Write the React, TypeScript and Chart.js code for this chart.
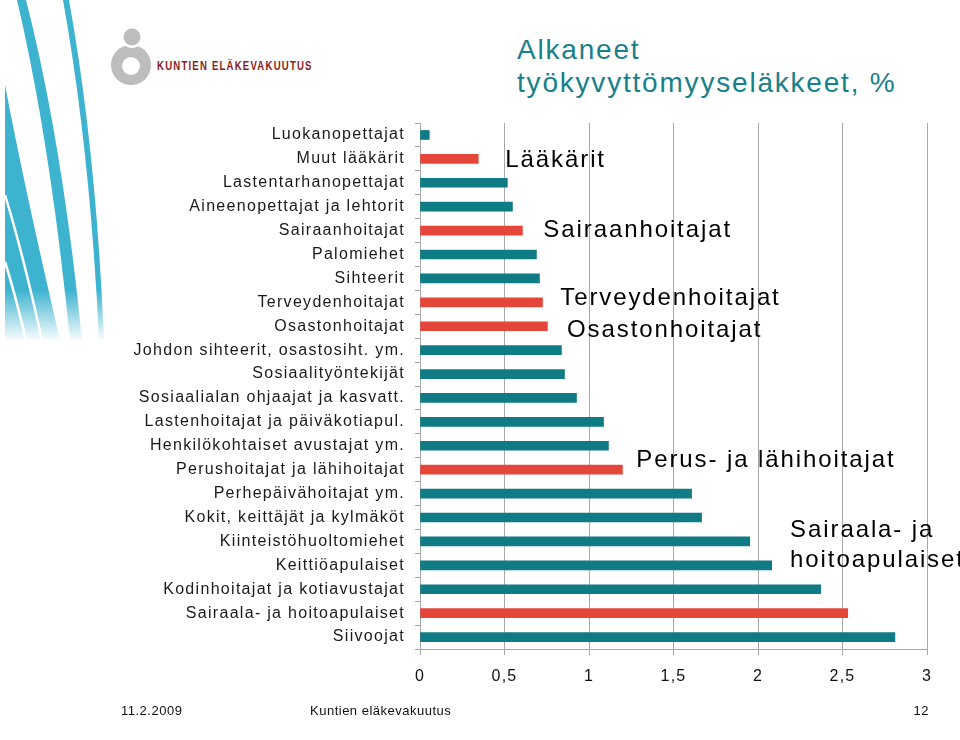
import React, { useEffect, useRef } from "react";
import { Chart, registerables } from "chart.js";

Chart.register(...registerables);

const categories = [
  "Luokanopettajat",
  "Muut lääkärit",
  "Lastentarhanopettajat",
  "Aineenopettajat ja lehtorit",
  "Sairaanhoitajat",
  "Palomiehet",
  "Sihteerit",
  "Terveydenhoitajat",
  "Osastonhoitajat",
  "Johdon sihteerit, osastosiht. ym.",
  "Sosiaalityöntekijät",
  "Sosiaalialan ohjaajat ja kasvatt.",
  "Lastenhoitajat ja päiväkotiapul.",
  "Henkilökohtaiset avustajat ym.",
  "Perushoitajat ja lähihoitajat",
  "Perhepäivähoitajat ym.",
  "Kokit, keittäjät ja kylmäköt",
  "Kiinteistöhuoltomiehet",
  "Keittiöapulaiset",
  "Kodinhoitajat ja kotiavustajat",
  "Sairaala- ja hoitoapulaiset",
  "Siivoojat",
];

const values = [
  0.055, 0.345, 0.517, 0.547, 0.606, 0.689, 0.707, 0.725, 0.754, 0.837, 0.855,
  0.926, 1.086, 1.115, 1.198, 1.607, 1.666, 1.951, 2.081, 2.371, 2.531, 2.81,
];

const highlighted = [
  "Muut lääkärit",
  "Sairaanhoitajat",
  "Terveydenhoitajat",
  "Osastonhoitajat",
  "Perushoitajat ja lähihoitajat",
  "Sairaala- ja hoitoapulaiset",
];

const xTickLabels = ["0", "0,5", "1", "1,5", "2", "2,5", "3"];

const annotationTexts = [
  ["Lääkärit"],
  ["Sairaanhoitajat"],
  ["Terveydenhoitajat"],
  ["Osastonhoitajat"],
  ["Perus- ja lähihoitajat"],
  ["Sairaala- ja", "hoitoapulaiset"],
];
const annotationValues = [0.505, 0.73, 0.83, 0.87, 1.28, 2.19];
const annotationRows = [1.05, 3.98, 6.85, 8.16, 13.6, 17.16];

const titleLines = ["Alkaneet", "työkyvyttömyyseläkkeet, %"];

const TEAL = "#0f7b84";
const RED = "#e5463a";
const GRID = "#a8a8a8";
const CYAN = "#3db3cf";
const FONT = "'Liberation Sans', Arial, sans-serif";

const spacingPlugin = {
  id: "spacing",
  beforeUpdate(chart: any) {
    chart.ctx.letterSpacing = "1.3px";
  },
  beforeDraw(chart: any) {
    chart.ctx.letterSpacing = "1.3px";
  },
};

const annotationPlugin = {
  id: "annotations",
  afterDraw(chart: any) {
    const { ctx } = chart;
    const xs = chart.scales.x;
    const ys = chart.scales.y;
    ctx.save();
    ctx.font = `24px ${FONT}`;
    ctx.fillStyle = "#000";
    ctx.letterSpacing = "1.9px";
    ctx.textAlign = "left";
    ctx.textBaseline = "middle";
    annotationTexts.forEach((lines, i) => {
      const x = xs.getPixelForValue(annotationValues[i]);
      const yc = ys.getPixelForValue(annotationRows[i]);
      const lh = 30;
      const y0 = yc - ((lines.length - 1) * lh) / 2;
      lines.forEach((t, j) => ctx.fillText(t, x, y0 + j * lh));
    });
    ctx.restore();
  },
};

function Decoration() {
  return (
    <svg
      width={960}
      height={740}
      style={{ position: "absolute", left: 0, top: 0, pointerEvents: "none" }}
    >
      <defs>
        <linearGradient id="fade" x1="0" y1="0" x2="0" y2="1">
          <stop offset="0" stopColor="#fff" stopOpacity={0} />
          <stop offset="1" stopColor="#fff" stopOpacity={1} />
        </linearGradient>
      </defs>
      <path d="M5,85 Q25,190 60,340 L5,340 Z" fill={CYAN} />
      <path d="M5,195 Q22,250 42,340" stroke="#fff" strokeWidth={2.5} fill="none" />
      <path d="M5,262 Q14,290 26,340" stroke="#fff" strokeWidth={2.5} fill="none" />
      <path d="M17,0 Q50,140 70,340 L82,340 Q62,140 26,0 Z" fill={CYAN} />
      <path d="M63,0 Q90,150 99,340 L104,340 Q96,150 69,0 Z" fill={CYAN} />
      <rect x={0} y={290} width={120} height={52} fill="url(#fade)" />
      <circle cx={131} cy={65} r={20} fill="#bdbdbd" />
      <circle cx={131} cy={66} r={9} fill="#fff" />
      <circle cx={132} cy={37} r={11} fill="#fff" />
      <circle cx={132} cy={37} r={8.5} fill="#bdbdbd" />
    </svg>
  );
}

const footerStyle: React.CSSProperties = {
  position: "absolute",
  top: 703,
  fontSize: 13,
  letterSpacing: "0.5px",
  color: "#111",
  whiteSpace: "nowrap",
};

export default function App() {
  const canvasRef = useRef<HTMLCanvasElement | null>(null);

  useEffect(() => {
    document.body.style.margin = "0";
    const canvas = canvasRef.current;
    if (!canvas) return;
    const chart = new Chart(canvas, {
      type: "bar",
      data: {
        labels: categories,
        datasets: [
          {
            data: values,
            backgroundColor: categories.map((c) =>
              highlighted.includes(c) ? RED : TEAL
            ),
            barThickness: 9,
          },
        ],
      },
      options: {
        indexAxis: "y",
        animation: false,
        responsive: false,
        maintainAspectRatio: false,
        layout: { padding: { top: 123, right: 33, bottom: 0, left: 0 } },
        plugins: {
          legend: { display: false },
          tooltip: { enabled: false },
          title: { display: false },
        },
        scales: {
          x: {
            min: 0,
            max: 3,
            ticks: {
              stepSize: 0.5,
              callback: (_v: any, i: number) => xTickLabels[i],
              font: { family: FONT, size: 16 },
              color: "#111",
              padding: 12,
              maxRotation: 0,
            },
            grid: { color: GRID, tickLength: 6, lineWidth: 1 },
            border: { color: GRID },
            afterFit: (s: any) => {
              s.height = 91;
            },
          },
          y: {
            grid: {
              offset: true,
              drawOnChartArea: false,
              tickLength: 5,
              color: GRID,
            },
            border: { color: GRID },
            ticks: {
              autoSkip: false,
              font: { family: FONT, size: 16 },
              color: "#1a1a1a",
              padding: 10,
            },
            afterFit: (s: any) => {
              s.width = 420;
            },
          },
        },
      } as any,
      plugins: [spacingPlugin, annotationPlugin],
    });
    return () => chart.destroy();
  }, []);

  return (
    <div
      style={{
        position: "relative",
        width: 960,
        height: 740,
        background: "#fff",
        overflow: "hidden",
        fontFamily: FONT,
      }}
    >
      <Decoration />
      <div
        style={{
          position: "absolute",
          left: 157,
          top: 58,
          fontFamily: FONT,
          fontWeight: "bold",
          fontSize: 12,
          letterSpacing: "1.5px",
          color: "#8a1c22",
          whiteSpace: "nowrap",
          lineHeight: "16px",
          transform: "scaleX(0.8)",
          transformOrigin: "left center",
        }}
      >
        KUNTIEN ELÄKEVAKUUTUS
      </div>
      <div
        style={{
          position: "absolute",
          left: 517,
          top: 33,
          fontSize: 28,
          lineHeight: "33px",
          letterSpacing: "1.8px",
          color: "#17808a",
          whiteSpace: "nowrap",
        }}
      >
        {titleLines.map((t) => (
          <div key={t}>{t}</div>
        ))}
      </div>
      <canvas
        ref={canvasRef}
        width={960}
        height={740}
        style={{ position: "absolute", left: 0, top: 0, width: 960, height: 740 }}
      />
      <div style={{ ...footerStyle, left: 121 }}>11.2.2009</div>
      <div style={{ ...footerStyle, left: 310 }}>Kuntien eläkevakuutus</div>
      <div style={{ ...footerStyle, right: 31 }}>12</div>
    </div>
  );
}
